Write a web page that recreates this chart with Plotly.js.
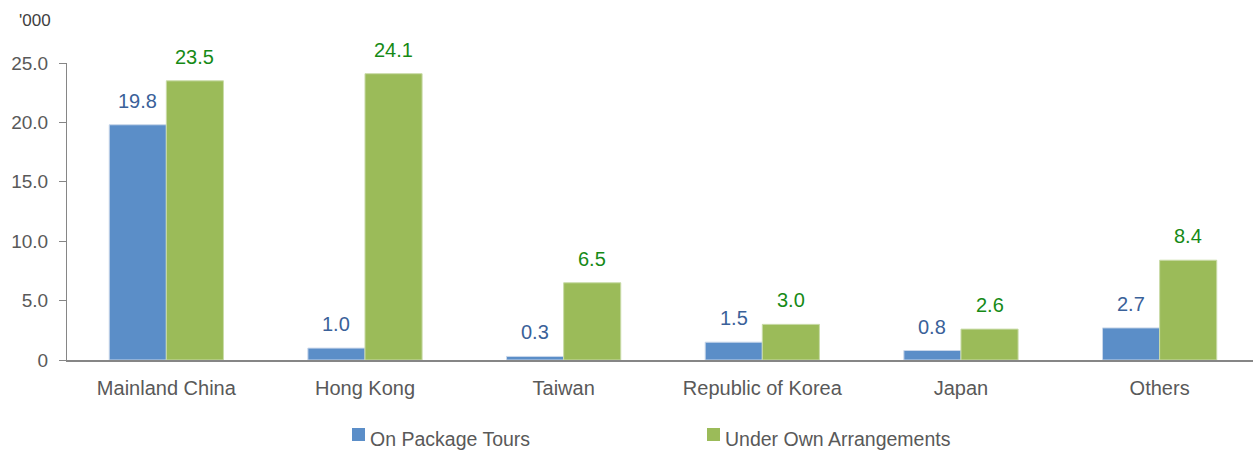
<!DOCTYPE html>
<html>
<head>
<meta charset="utf-8">
<script src="https://cdn.plot.ly/plotly-3.0.1.min.js"></script>
<style>html,body{margin:0;padding:0;background:#fff;}#chart{width:1253px;height:452px;}</style>
</head>
<body>
<div id="chart"></div>
<script>
const categories = ["Mainland China", "Hong Kong", "Taiwan", "Republic of Korea", "Japan", "Others"];
const packageTours = [19.8, 1.0, 0.3, 1.5, 0.8, 2.7];
const ownArrangements = [23.5, 24.1, 6.5, 3.0, 2.6, 8.4];
const seriesNames = ["On Package Tours", "Under Own Arrangements"];
const yTickVals = [0, 5, 10, 15, 20, 25];
const yTickText = ["0", "5.0", "10.0", "15.0", "20.0", "25.0"];

const FONT = "Liberation Sans, Arial, sans-serif";
const BLUE = "#5B8EC8";
const GREEN = "#9BBB59";
const BLUE_TXT = "#3A6199";
const GREEN_TXT = "#168A16";
const bargap = 0.425;
const half = (1 - bargap) / 4;

const traces = [
  {type: "bar", name: seriesNames[0], x: categories, y: packageTours,
   marker: {color: BLUE, line: {color: "#C9D7EA", width: 1}}, hoverinfo: "skip"},
  {type: "bar", name: seriesNames[1], x: categories, y: ownArrangements,
   marker: {color: GREEN, line: {color: "#C9DBA8", width: 1}}, hoverinfo: "skip"}
];

const L = 67, T = 63, B = 92, W = 1253, H = 452;
const pw = W - L, ph = H - T - B;
const px = v => (v - L) / pw;          // pixel x -> paper x
const py = v => (H - B - v) / ph;      // pixel y -> paper y

const annotations = [];
categories.forEach((c, i) => {
  annotations.push({x: i - half, y: packageTours[i], xref: "x", yref: "y", text: packageTours[i].toFixed(1),
    showarrow: false, yanchor: "bottom", yshift: 11, font: {family: FONT, size: 20, color: BLUE_TXT}});
  annotations.push({x: i + half, y: ownArrangements[i], xref: "x", yref: "y", text: ownArrangements[i].toFixed(1),
    showarrow: false, yanchor: "bottom", yshift: 11, font: {family: FONT, size: 20, color: GREEN_TXT}});
});
annotations.push({x: px(35), y: py(20), xref: "paper", yref: "paper", text: "'000", showarrow: false,
  xanchor: "center", yanchor: "middle", font: {family: FONT, size: 17, color: "#404040"}});

// custom legend
const legendX = [352, 707];
const legendColors = [BLUE, GREEN];
const shapes = [];
seriesNames.forEach((n, k) => {
  shapes.push({type: "rect", xref: "paper", yref: "paper",
    x0: px(legendX[k]), x1: px(legendX[k] + 13), y0: py(441), y1: py(428),
    fillcolor: legendColors[k], line: {width: 0}});
  annotations.push({x: px(legendX[k] + 16), y: py(439), xref: "paper", yref: "paper", text: n,
    showarrow: false, xanchor: "left", yanchor: "middle",
    font: {family: FONT, size: 19.5, color: "#595959"}});
});

const layout = {
  width: W, height: H,
  margin: {l: L, r: 0, t: T, b: B},
  paper_bgcolor: "#fff", plot_bgcolor: "#fff",
  font: {family: FONT, size: 19, color: "#595959"},
  barmode: "group", bargap: bargap, bargroupgap: 0,
  showlegend: false,
  xaxis: {type: "category", range: [-0.5, 5.47], showline: true, linecolor: "#868686", linewidth: 1.5,
    ticks: "", showgrid: false, zeroline: false, tickfont: {family: FONT, size: 20, color: "#595959"},
    ticklabelstandoff: 9},
  yaxis: {range: [0, 25], tickvals: yTickVals, ticktext: yTickText, showline: true, linecolor: "#868686",
    linewidth: 1, ticks: "outside", ticklen: 7, tickcolor: "#868686", showgrid: false, zeroline: false,
    tickfont: {family: FONT, size: 19, color: "#595959"}, ticklabelstandoff: 7},
  shapes: shapes,
  annotations: annotations
};
Plotly.newPlot("chart", traces, layout, {staticPlot: true});
</script>
</body>
</html>
